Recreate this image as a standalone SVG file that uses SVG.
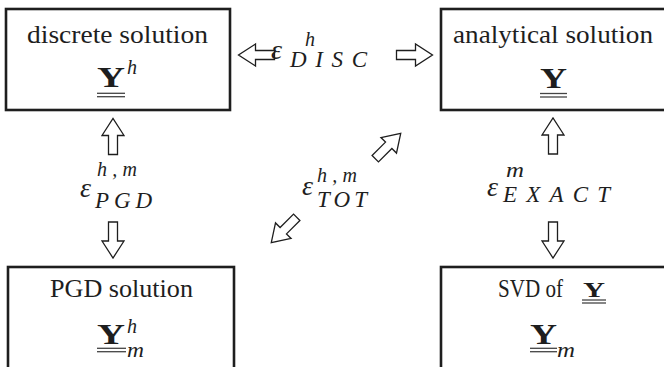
<svg xmlns="http://www.w3.org/2000/svg" width="664" height="367" viewBox="0 0 664 367">
<style>
.box{fill:#fff;stroke:#1e1e1e;stroke-width:2.6}
.t{font-family:"Liberation Serif","Times New Roman",serif;font-size:25px;fill:#1e1e1e}
.by{font-family:"Liberation Serif","Times New Roman",serif;font-weight:bold;font-size:29px;fill:#1e1e1e}
.sy{font-family:"Liberation Serif","Times New Roman",serif;font-weight:bold;font-size:22px;fill:#1e1e1e}
.it{font-family:"Liberation Serif","Times New Roman",serif;font-style:italic;fill:#1e1e1e}
.eps{font-size:28px}
.sup{font-size:20px}
.sub{font-size:23px}
.ul{stroke:#444;stroke-width:1.3}
.arr{fill:#fff;stroke:#1e1e1e;stroke-width:1.3;stroke-linejoin:miter}
</style>
<defs>
<path id="arrow" d="M-18,-4.5 H1 V-11 L18,0 L1,11 V4.5 H-18 Z"/>
</defs>
<rect width="664" height="367" fill="#fff"/>
<g id="discrete">
<rect class="box" x="6" y="9" width="224" height="101"/>
<text class="t" x="27" y="43" textLength="181" lengthAdjust="spacingAndGlyphs">discrete solution</text>
<text class="by" x="97" y="87" textLength="28" lengthAdjust="spacingAndGlyphs">Y</text>
<text class="it sup" x="127" y="74">h</text>
<line class="ul" x1="97" y1="93.3" x2="125" y2="93.3"/>
<line class="ul" x1="97" y1="96.7" x2="125" y2="96.7"/>
</g>
<g id="analytical">
<rect class="box" x="441" y="9" width="230" height="101"/>
<text class="t" x="453" y="43" textLength="200" lengthAdjust="spacingAndGlyphs">analytical solution</text>
<text class="by" x="540" y="88" textLength="27" lengthAdjust="spacingAndGlyphs">Y</text>
<line class="ul" x1="540" y1="93.5" x2="567" y2="93.5"/>
<line class="ul" x1="540" y1="97" x2="567" y2="97"/>
</g>
<g id="pgd">
<rect class="box" x="8" y="267" width="226" height="110"/>
<text class="t" x="50" y="297" textLength="143" lengthAdjust="spacingAndGlyphs">PGD solution</text>
<text class="by" x="97" y="344" textLength="28" lengthAdjust="spacingAndGlyphs">Y</text>
<text class="it sup" x="127" y="333">h</text>
<text class="it sup" x="127" y="357" textLength="17" lengthAdjust="spacingAndGlyphs">m</text>
<line class="ul" x1="97" y1="348.3" x2="126" y2="348.3"/>
<line class="ul" x1="97" y1="351.7" x2="126" y2="351.7"/>
</g>
<g id="svd">
<rect class="box" x="441" y="267" width="230" height="110"/>
<text class="t" x="498" y="297" textLength="65" lengthAdjust="spacingAndGlyphs">SVD of</text>
<text class="sy" x="583" y="297" textLength="22" lengthAdjust="spacingAndGlyphs">Y</text>
<line class="ul" x1="582" y1="300" x2="606" y2="300" stroke-width="1"/>
<line class="ul" x1="582" y1="303" x2="606" y2="303" stroke-width="1"/>
<text class="by" x="530" y="344" textLength="27" lengthAdjust="spacingAndGlyphs">Y</text>
<text class="it sup" x="557" y="357" textLength="18" lengthAdjust="spacingAndGlyphs">m</text>
<line class="ul" x1="530" y1="348.3" x2="557" y2="348.3"/>
<line class="ul" x1="530" y1="351.7" x2="557" y2="351.7"/>
</g>
<g id="connectors">
<use href="#arrow" class="arr" transform="translate(256.5,55) rotate(180)"/>
<use href="#arrow" class="arr" transform="translate(414.5,55)"/>
<use href="#arrow" class="arr" transform="translate(113,136.5) rotate(-90)"/>
<use href="#arrow" class="arr" transform="translate(113,240) rotate(90)"/>
<use href="#arrow" class="arr" transform="translate(553,136) rotate(-90)"/>
<use href="#arrow" class="arr" transform="translate(553,240) rotate(90)"/>
<use href="#arrow" class="arr" transform="translate(388,146) rotate(-45)"/>
<use href="#arrow" class="arr" transform="translate(284,230) rotate(135)"/>
<g id="label-disc">
<text class="it eps" x="271" y="59">ε</text>
<text class="it sup" x="305" y="46">h</text>
<text class="it sub" x="290" y="67" textLength="77" lengthAdjust="spacing">DISC</text>
</g>
<g id="label-pgd">
<text class="it eps" x="80" y="197">ε</text>
<text class="it sup" x="97" y="176" textLength="40" lengthAdjust="spacing">h,m</text>
<text class="it sub" x="95" y="208" textLength="57" lengthAdjust="spacing">PGD</text>
</g>
<g id="label-tot">
<text class="it eps" x="302" y="195">ε</text>
<text class="it sup" x="317" y="182" textLength="40" lengthAdjust="spacing">h,m</text>
<text class="it sub" x="317" y="207" textLength="50" lengthAdjust="spacing">TOT</text>
</g>
<g id="label-exact">
<text class="it eps" x="487" y="196">ε</text>
<text class="it sup" x="506" y="177" textLength="18" lengthAdjust="spacingAndGlyphs">m</text>
<text class="it sub" x="503" y="202" textLength="107" lengthAdjust="spacing">EXACT</text>
</g>
</g>
</svg>
